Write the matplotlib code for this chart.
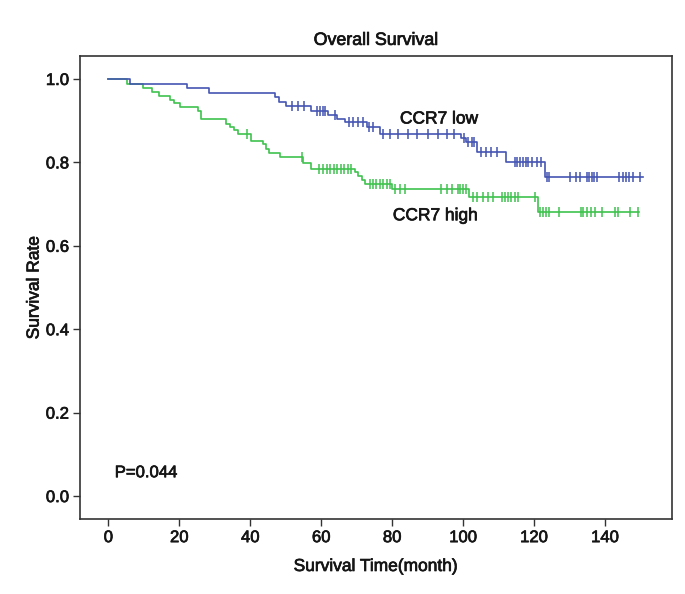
import numpy as np
import matplotlib
matplotlib.use("Agg")
import matplotlib.pyplot as plt
import matplotlib.patheffects as pe

plt.rcParams['font.family'] = ['Liberation Sans', 'DejaVu Sans']

# ---- data ----
# CCR7 low (blue): event times and survival after each event
low_event_t = [0, 6.0, 22.2, 28.3, 47.0, 48.2, 50.2, 57.0, 62.0, 64.5, 66.7,
               72.8, 76.6, 99.4, 100.8, 103.8, 112.2, 123.0]
low_event_s = [1.0, 0.989, 0.978, 0.967, 0.956, 0.945, 0.934, 0.922, 0.913,
               0.905, 0.896, 0.885, 0.869, 0.858, 0.849, 0.825, 0.801, 0.765]
low_end = 150.6
low_censor_t = [51.9, 53.6, 55.2, 58.9, 59.8, 60.5, 61.2, 63.9, 67.8, 69.0,
                70.4, 71.8, 73.5, 74.7, 77.5, 79.5, 81.7, 84.5, 87.0, 90.2,
                93.0, 95.5, 97.5, 100.4, 101.5, 102.4, 103.2, 105.0, 106.5,
                108.0, 109.5, 114.6, 115.3, 116.0, 116.8, 117.6, 118.4, 119.4,
                120.7, 122.0, 123.6, 124.2, 130.1, 131.8, 133.0, 134.8, 135.5,
                136.3, 137.0, 137.7, 144.0, 145.0, 146.0, 146.8, 147.8, 150.0]

# CCR7 high (green)
high_event_t = [0, 5.2, 9.9, 12.2, 14.3, 17.3, 18.4, 20.3, 25.4, 26.2, 33.2,
                34.3, 35.4, 36.6, 40.2, 43.5, 44.4, 45.3, 48.4, 55.0, 57.2,
                69.5, 70.4, 71.4, 72.3, 80.0, 101.8, 121.0]
high_event_s = [1.0, 0.987, 0.978, 0.968, 0.958, 0.950, 0.942, 0.932, 0.923,
                0.904, 0.893, 0.885, 0.877, 0.868, 0.852, 0.843, 0.833, 0.822,
                0.812, 0.798, 0.785, 0.776, 0.768, 0.758, 0.748, 0.735, 0.716,
                0.680]
high_end = 149.5
high_censor_t = [39.0, 54.5, 59.5, 60.5, 61.5, 62.5, 63.5, 64.5, 65.5, 66.5,
                 67.5, 68.5, 73.7, 74.5, 75.5, 76.5, 77.5, 78.5, 79.3, 80.8,
                 82.2, 83.6, 93.8, 95.5, 97.0, 98.5, 99.2, 100.0, 100.8, 102.9,
                 103.8, 105.7, 107.1, 108.5, 110.9, 111.8, 112.7, 113.6, 114.6,
                 115.5, 120.3, 121.7, 122.4, 123.4, 124.3, 127.1, 133.2, 133.7,
                 135.0, 136.0, 137.2, 139.1, 142.8, 143.8, 147.0, 149.2]

x_ticks = [0, 20, 40, 60, 80, 100, 120, 140]
y_ticks = [0.0, 0.2, 0.4, 0.6, 0.8, 1.0]

BLUE = '#4455b3'
GREEN = '#3ec24e'
TXT = '#151515'
HEAVY = [pe.withStroke(linewidth=0.5, foreground=TXT)]


def step_value(ev_t, ev_s, t):
    idx = np.searchsorted(np.asarray(ev_t), np.asarray(t), side='right') - 1
    return np.asarray(ev_s)[idx]


fig = plt.figure(figsize=(6.85, 5.94), dpi=100)
ax = fig.add_axes([80 / 685, 1 - 519 / 594, (672 - 80) / 685, (519 - 56) / 594])

for ev_t, ev_s, end, cens, col in [
        (high_event_t, high_event_s, high_end, high_censor_t, GREEN),
        (low_event_t, low_event_s, low_end, low_censor_t, BLUE)]:
    tt = list(ev_t) + [end]
    ss = list(ev_s) + [ev_s[-1]]
    ax.step(tt, ss, where='post', color=col, lw=1.2)
    ax.plot(cens, step_value(ev_t, ev_s, cens), linestyle='none', marker='|',
            ms=6.5, mew=1.1, color=col)

ax.set_xlim(-8.0, 158.9)
ax.set_ylim(-0.055, 1.055)
ax.set_xticks(x_ticks)
ax.set_xticklabels([str(v) for v in x_ticks])
ax.set_yticks(y_ticks)
ax.set_yticklabels([f"{v:.1f}" for v in y_ticks])
ax.tick_params(direction='out', length=5, width=1, color='#333333',
               labelsize=12, labelcolor=TXT, pad=3)
for lab in ax.get_xticklabels() + ax.get_yticklabels():
    lab.set_path_effects(HEAVY)
for sp in ax.spines.values():
    sp.set_color('#333333')
    sp.set_linewidth(1.2)

ax.set_title('Overall Survival', fontsize=12.8, color=TXT, pad=8, path_effects=HEAVY)
ax.set_xlabel('Survival Time(month)', fontsize=12.5, color=TXT, labelpad=10, path_effects=HEAVY)
ax.set_ylabel('Survival Rate', fontsize=12.5, color=TXT, labelpad=3, path_effects=HEAVY)

ax.text(82.2, 0.904, 'CCR7 low', fontsize=12.5, color=TXT, va='center', ha='left', path_effects=HEAVY)
ax.text(80.2, 0.672, 'CCR7 high', fontsize=12.5, color=TXT, va='center', ha='left', path_effects=HEAVY)
ax.text(1.8, 0.056, 'P=0.044', fontsize=12, color=TXT, va='center', ha='left', path_effects=HEAVY)

fig.savefig('out.png', dpi=100)
